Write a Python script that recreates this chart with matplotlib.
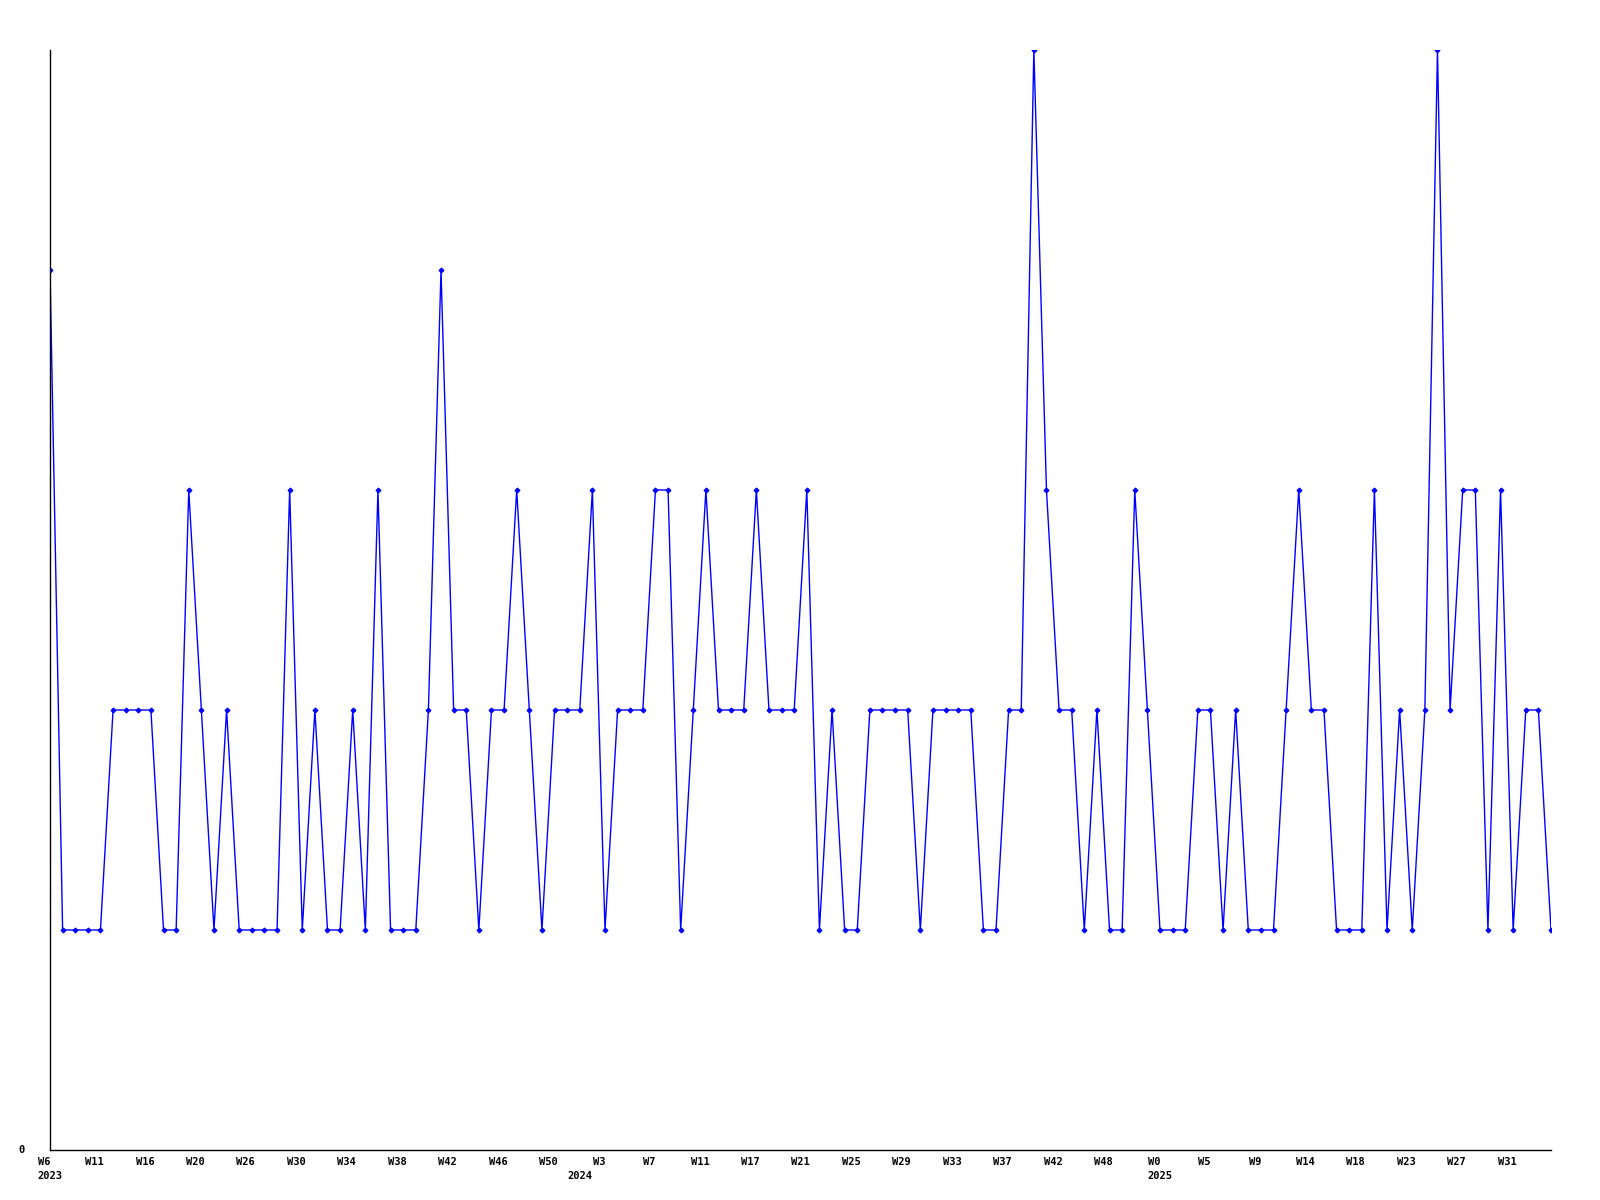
import matplotlib
matplotlib.use("Agg")
import matplotlib.pyplot as plt
import matplotlib.transforms as mtransforms

# weekly values, one per point (W6 2023 ... W34 2025)
values = [4, 1, 1, 1, 1, 2, 2, 2, 2, 1, 1, 3, 2, 1, 2, 1, 1, 1, 1, 3,
          1, 2, 1, 1, 2, 1, 3, 1, 1, 1, 2, 4, 2, 2, 1, 2, 2, 3, 2, 1,
          2, 2, 2, 3, 1, 2, 2, 2, 3, 3, 1, 2, 3, 2, 2, 2, 3, 2, 2, 2,
          3, 1, 2, 1, 1, 2, 2, 2, 2, 1, 2, 2, 2, 2, 1, 1, 2, 2, 5, 3,
          2, 2, 1, 2, 1, 1, 3, 2, 1, 1, 1, 2, 2, 1, 2, 1, 1, 1, 2, 3,
          2, 2, 1, 1, 1, 3, 1, 2, 1, 2, 5, 2, 3, 3, 1, 3, 1, 2, 2, 1]

tick_labels = ["W6", "W11", "W16", "W20", "W26", "W30", "W34", "W38", "W42", "W46",
               "W50", "W3", "W7", "W11", "W17", "W21", "W25", "W29", "W33", "W37",
               "W42", "W48", "W0", "W5", "W9", "W14", "W18", "W23", "W27", "W31"]
tick_step = 4

years = ["2023", "2024", "2025"]
year_pos = [0, 42, 88]

x = list(range(len(values)))

fig = plt.figure(figsize=(16, 12), dpi=100)
ax = fig.add_axes([50 / 1600, 50 / 1200, 1501 / 1600, 1100 / 1200])

ax.plot(x, values, color="#0000ff", linewidth=1, marker="D", markersize=2.5,
        markeredgewidth=0.8)

ax.set_xlim(0, len(values) - 1)
ax.set_ylim(0, 5)

ax.spines["top"].set_visible(False)
ax.spines["right"].set_visible(False)
ax.spines["left"].set_linewidth(1)
ax.spines["bottom"].set_linewidth(1)

ax.set_xticks([])
ax.set_yticks([])

font = dict(family="DejaVu Sans Mono", fontweight="bold", fontsize=7.5, color="black")

shift = mtransforms.ScaledTranslation(-6 / 100, 0, fig.dpi_scale_trans)
trans = mtransforms.blended_transform_factory(ax.transData, ax.transAxes) + shift
for i, lab in enumerate(tick_labels):
    ax.text(i * tick_step, -0.006, lab, transform=trans, ha="center", va="top", **font)

trans_y = mtransforms.blended_transform_factory(ax.transData, ax.transAxes)
for yr, p in zip(years, year_pos):
    ax.text(p, -0.019, yr, transform=trans_y, ha="center", va="top", **font)

ax.text(-0.019, 0, "0", transform=ax.transAxes, ha="center", va="center", **font)

fig.savefig("out.png", dpi=100)
